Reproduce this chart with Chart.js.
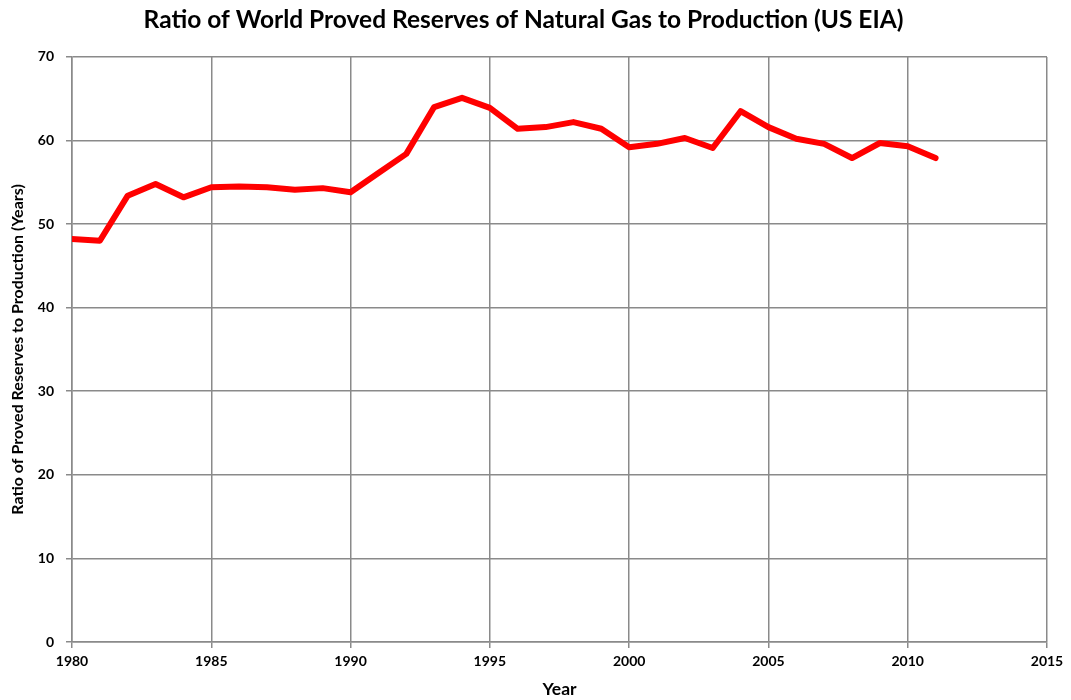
<!DOCTYPE html>
<html>
<head>
<meta charset="utf-8">
<script src="https://cdn.jsdelivr.net/npm/chart.js@4/dist/chart.umd.min.js"></script>
<style>
  html, body { margin: 0; padding: 0; background: #fff; }
  #wrap { width: 1071px; height: 700px; }
</style>
</head>
<body>
<div id="wrap"><canvas id="gas-chart"></canvas></div>
<script>
// years and R/P ratio
const years = [1980, 1981, 1982, 1983, 1984, 1985, 1986, 1987, 1988, 1989,
  1990, 1991, 1992, 1993, 1994, 1995, 1996, 1997, 1998, 1999,
  2000, 2001, 2002, 2003, 2004, 2005, 2006, 2007, 2008, 2009, 2010, 2011];
const ratio = [48.2, 48.0, 53.4, 54.8, 53.2, 54.4, 54.5, 54.4, 54.1, 54.3,
  53.8, 56.1, 58.4, 64.0, 65.1, 63.9, 61.4, 61.6, 62.2, 61.4,
  59.2, 59.6, 60.3, 59.1, 63.5, 61.6, 60.2, 59.6, 57.9, 59.7, 59.3, 57.9];
const xTicks = [1980, 1985, 1990, 1995, 2000, 2005, 2010, 2015];
const yTicks = [0, 10, 20, 30, 40, 50, 60, 70];

const FONT = "Lato, 'Open Sans', sans-serif";
const gridGray = "#8a8a8a";

const points = years.map((yr, i) => ({ x: yr, y: ratio[i] }));

new Chart(document.getElementById("gas-chart"), {
  type: "line",
  data: {
    datasets: [{
      label: "R/P ratio",
      data: points,
      borderColor: "#ff0000",
      borderWidth: 6,
      pointRadius: 0,
      tension: 0,
      fill: false,
      borderJoinStyle: "round",
      borderCapStyle: "round"
    }]
  },
  options: {
    responsive: true,
    maintainAspectRatio: false,
    animation: false,
    layout: { padding: { left: 0, right: 24, top: 0, bottom: 0 } },
    plugins: {
      legend: { display: false },
      tooltip: { enabled: false },
      title: {
        display: true,
        text: "Ratio of World Proved Reserves of Natural Gas to Production (US EIA)",
        color: "#000",
        font: { family: FONT, size: 24.5, weight: "bold" },
        padding: { top: 5, bottom: 22.5 }
      }
    },
    scales: {
      x: {
        type: "linear",
        min: xTicks[0],
        max: xTicks[xTicks.length - 1],
        afterBuildTicks: (scale) => { scale.ticks = xTicks.map(v => ({ value: v })); },
        afterFit: (scale) => { scale.height = 58; },
        ticks: {
          color: "#000",
          font: { family: FONT, size: 14, weight: "bold" },
          padding: 5,
          maxRotation: 0,
          callback: (v) => String(v)
        },
        grid: { color: gridGray, lineWidth: 1.5, tickLength: 6 },
        border: { color: gridGray, width: 1.5 },
        title: {
          display: true,
          text: "Year",
          color: "#000",
          font: { family: FONT, size: 17.5, weight: "bold" },
          padding: { top: 0, bottom: 0 }
        }
      },
      y: {
        min: yTicks[0],
        max: yTicks[yTicks.length - 1],
        afterBuildTicks: (scale) => { scale.ticks = yTicks.map(v => ({ value: v })); },
        afterFit: (scale) => { scale.width = 72; },
        ticks: {
          color: "#000",
          font: { family: FONT, size: 14, weight: "bold" },
          padding: 12
        },
        grid: { color: gridGray, lineWidth: 1.5, tickLength: 6 },
        border: { color: gridGray, width: 1.5 },
        title: {
          display: true,
          text: "Ratio of Proved Reserves to Production (Years)",
          color: "#000",
          font: { family: FONT, size: 16, weight: "bold" },
          padding: { top: 8, bottom: 0 }
        }
      }
    }
  }
});
</script>
</body>
</html>
